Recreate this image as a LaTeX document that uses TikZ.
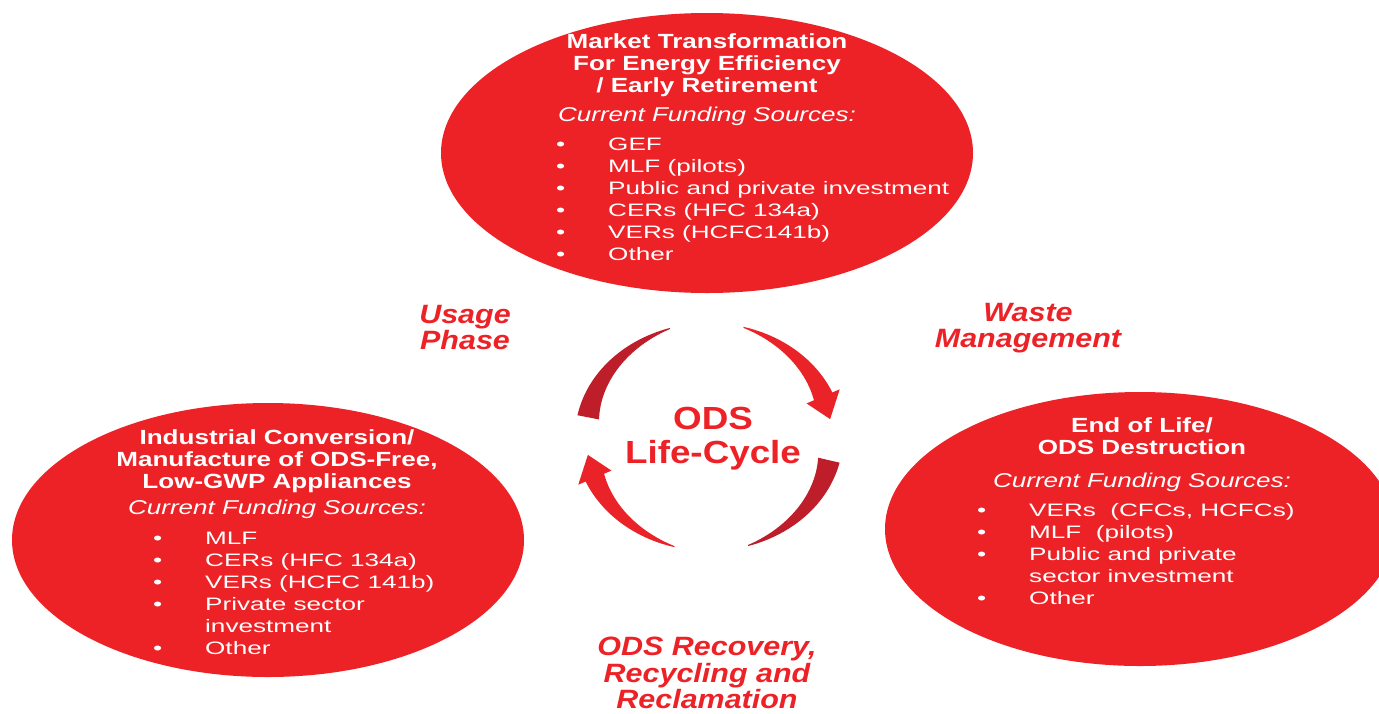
\documentclass[tikz,border=0pt]{standalone}
\usepackage{fontspec}
\setmainfont{Liberation Sans}
\newfontfamily\titlefont[FakeStretch=1.27]{Liberation Sans}
\newfontfamily\fundfont[FakeStretch=1.30]{Liberation Sans}
\newfontfamily\itemfont[FakeStretch=1.45]{Liberation Sans}
\newfontfamily\phasefont[FakeStretch=1.15]{Liberation Sans}
\usepackage{tikz}
\usetikzlibrary{shapes.geometric, positioning}

\definecolor{odsred}{RGB}{236,34,39}
\definecolor{arcdark}{RGB}{190,30,42}
\definecolor{arcred}{RGB}{234,35,40}

\tikzset{
  stage/.style={ellipse, fill=odsred, inner sep=0pt},
  stagetitle/.style={white, font=\titlefont\bfseries\fontsize{20.5}{21.7}\selectfont, align=center, inner sep=0pt},
  fund/.style={white, font=\fundfont\itshape\fontsize{20}{24}\selectfont, inner sep=0pt, anchor=base},
  items/.style={white, font=\itemfont\fontsize{18}{22}\selectfont, align=left, inner sep=0pt, anchor=north west},
  phase/.style={odsred, font=\phasefont\bfseries\itshape\fontsize{26.5}{26.5}\selectfont, align=center, inner sep=0pt, anchor=north},
  cyclelabel/.style={odsred, font=\phasefont\bfseries\fontsize{32}{34}\selectfont, align=center, inner sep=0pt, anchor=north}
}
\newcommand{\bul}{\makebox[52pt][l]{\textbullet}}
\newcommand{\nobul}{\makebox[52pt][l]{}}

\begin{document}
\begin{tikzpicture}[x=1pt, y=-1pt]
\useasboundingbox (0,0) rectangle (1379,713);
\clip (0,0) rectangle (1379,713);

\node[stage, minimum width=532pt, minimum height=280pt] (market) at (707,153) {};
\node[stage, minimum width=512pt, minimum height=274pt] (industry) at (268,540) {};
\node[stage, minimum width=510pt, minimum height=274pt] (endlife) at (1140,529) {};

\node[stagetitle, below=21pt of market.north] (markettitle) {Market Transformation\\For Energy Efficiency\\/ Early Retirement};
\node[fund] (marketfund) at (707,121) {Current Funding Sources:};
\node[items] (marketlist) at (556,138) {\bul GEF\\\bul MLF (pilots)\\\bul Public and private investment\\\bul CERs (HFC 134a)\\\bul VERs (HCFC141b)\\\bul Other};

\node[stagetitle, below=27pt of industry.north, xshift=9pt] (industrytitle) {Industrial Conversion/\\Manufacture of ODS-Free,\\Low-GWP Appliances};
\node[fund] (industryfund) at (277,514) {Current Funding Sources:};
\node[items] (industrylist) at (153,532) {\bul MLF\\\bul CERs (HFC 134a)\\\bul VERs (HCFC 141b)\\\bul Private sector\\\nobul investment\\\bul Other};

\node[stagetitle, below=26pt of endlife.north, xshift=2pt] (endlifetitle) {End of Life/\\ODS Destruction};
\node[fund] (endlifefund) at (1142,487) {Current Funding Sources:};
\node[items] (endlifelist) at (977,503) {\bul VERs~ (CFCs, HCFCs)\\\bul MLF~ (pilots)\\\bul Public and private\\\nobul sector investment\\\bul Other};

\node[cyclelabel] (cycle) at (713,407) {ODS\\Life-Cycle};
\node[phase] (usage) at (465,305) {Usage\\Phase};
\node[phase] (waste) at (1028,303) {Waste\\Management};
\node[phase] (recovery) at (707,637) {ODS Recovery,\\Recycling and\\Reclamation};

\begin{scope}[shift={(709,437)}, yscale=-1]
\fill[arcdark] plot[domain=169:107, samples=30] ({134*cos(\x)},{114*sin(\x)})
  -- plot[domain=107:169, samples=30] ({(133-21*(\x-107)/62)*cos(\x)},{(113-21*(\x-107)/62)*sin(\x)}) -- cycle;
\fill[arcred] plot[domain=75:23, samples=30] ({134*cos(\x)},{114*sin(\x)})
  -- ({142*cos(23)},{122*sin(23)}) -- ({123*cos(10)},{103*sin(10)}) -- ({106*cos(23)},{86*sin(23)})
  -- plot[domain=23:75, samples=30] ({(114+19*(\x-23)/52)*cos(\x)},{(94+19*(\x-23)/52)*sin(\x)}) -- cycle;
\fill[arcdark] plot[domain=347:287, samples=30] ({134*cos(\x)},{114*sin(\x)})
  -- plot[domain=287:347, samples=30] ({(133-21*(\x-287)/60)*cos(\x)},{(113-21*(\x-287)/60)*sin(\x)}) -- cycle;
\fill[arcred] plot[domain=255:203, samples=30] ({134*cos(\x)},{114*sin(\x)})
  -- ({142*cos(203)},{122*sin(203)}) -- ({123*cos(190)},{103*sin(190)}) -- ({106*cos(203)},{86*sin(203)})
  -- plot[domain=203:255, samples=30] ({(114+19*(\x-203)/52)*cos(\x)},{(94+19*(\x-203)/52)*sin(\x)}) -- cycle;
\end{scope}
\end{tikzpicture}
\end{document}
